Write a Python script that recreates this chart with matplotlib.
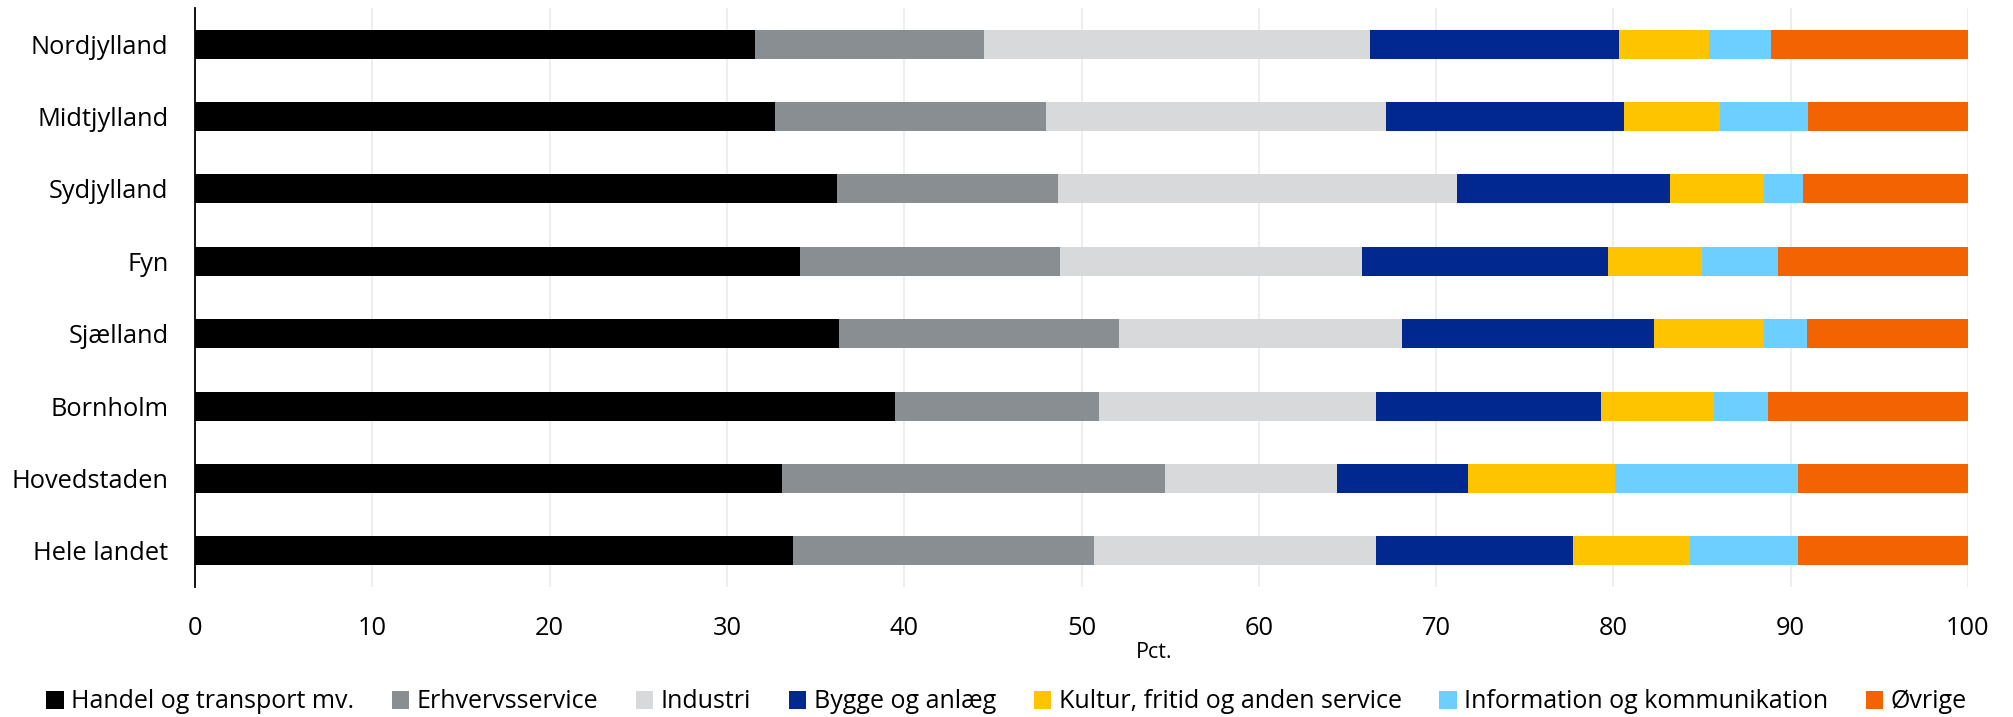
import matplotlib
matplotlib.use("Agg")
import matplotlib.pyplot as plt
import numpy as np

regions = ["Nordjylland", "Midtjylland", "Sydjylland", "Fyn", "Sjælland",
           "Bornholm", "Hovedstaden", "Hele landet"]
series_names = ["Handel og transport mv.", "Erhvervsservice", "Industri",
                "Bygge og anlæg", "Kultur, fritid og anden service",
                "Information og kommunikation", "Øvrige"]

handel = [31.6, 32.7, 36.2, 34.1, 36.3, 39.5, 33.1, 33.7]
erhvervsservice = [12.9, 15.3, 12.5, 14.7, 15.8, 11.5, 21.6, 17.0]
industri = [21.8, 19.2, 22.5, 17.0, 16.0, 15.6, 9.7, 15.9]
bygge = [14.0, 13.4, 12.0, 13.9, 14.2, 12.7, 7.4, 11.1]
kultur = [5.1, 5.4, 5.3, 5.3, 6.2, 6.4, 8.3, 6.6]
information = [3.5, 5.0, 2.2, 4.3, 2.4, 3.0, 10.3, 6.1]
oevrige = [11.1, 9.0, 9.3, 10.7, 9.1, 11.3, 9.6, 9.6]

series_values = [handel, erhvervsservice, industri, bygge, kultur, information, oevrige]
colors = ["#000000", "#888e92", "#d8d9da", "#00288f", "#ffc400", "#6dcfff", "#f46301"]
xticks = [0, 10, 20, 30, 40, 50, 60, 70, 80, 90, 100]

plt.rcParams['font.family'] = ['Open Sans', 'DejaVu Sans']
FS = 18.3

fig = plt.figure(figsize=(20.13, 7.17), dpi=100)
ax = fig.add_axes([195/2013, 1-587/717, (1968-195)/2013, (587-8)/717])

y = np.arange(len(regions))
left = np.zeros(len(regions))
for name, vals, c in zip(series_names, series_values, colors):
    vals = np.array(vals)
    ax.barh(y, vals, left=left, height=0.4, color=c, label=name, linewidth=0)
    left += vals

ax.set_ylim(len(regions) - 0.5, -0.5)
ax.set_xlim(0, 100)
ax.set_yticks(y)
ax.set_yticklabels(regions, fontsize=FS)
ax.set_xticks(xticks)
ax.set_xticklabels([str(t) for t in xticks], fontsize=FS)
ax.tick_params(axis='both', length=0)
ax.tick_params(axis='y', pad=19)
ax.tick_params(axis='x', pad=21)
ax.grid(axis='x', color='#ebebeb', linewidth=1.2)
ax.set_axisbelow(True)
for s in ['top', 'right', 'bottom']:
    ax.spines[s].set_visible(False)
ax.spines['left'].set_linewidth(1.3)
ax.spines['left'].set_color('#000000')

ax.set_xlabel("Pct.", fontsize=15.5)
ax.xaxis.set_label_coords((1154-195)/(1968-195), -(653-587)/(587-8))
ax.xaxis.label.set_va('center')

fig.legend(loc='center', bbox_to_anchor=(0.5, 15/717), ncol=7, frameon=False,
           fontsize=18, handlelength=0.7, handleheight=0.7, handletextpad=0.3,
           columnspacing=1.5, borderaxespad=0, borderpad=0)

fig.savefig("out.png", dpi=100)
